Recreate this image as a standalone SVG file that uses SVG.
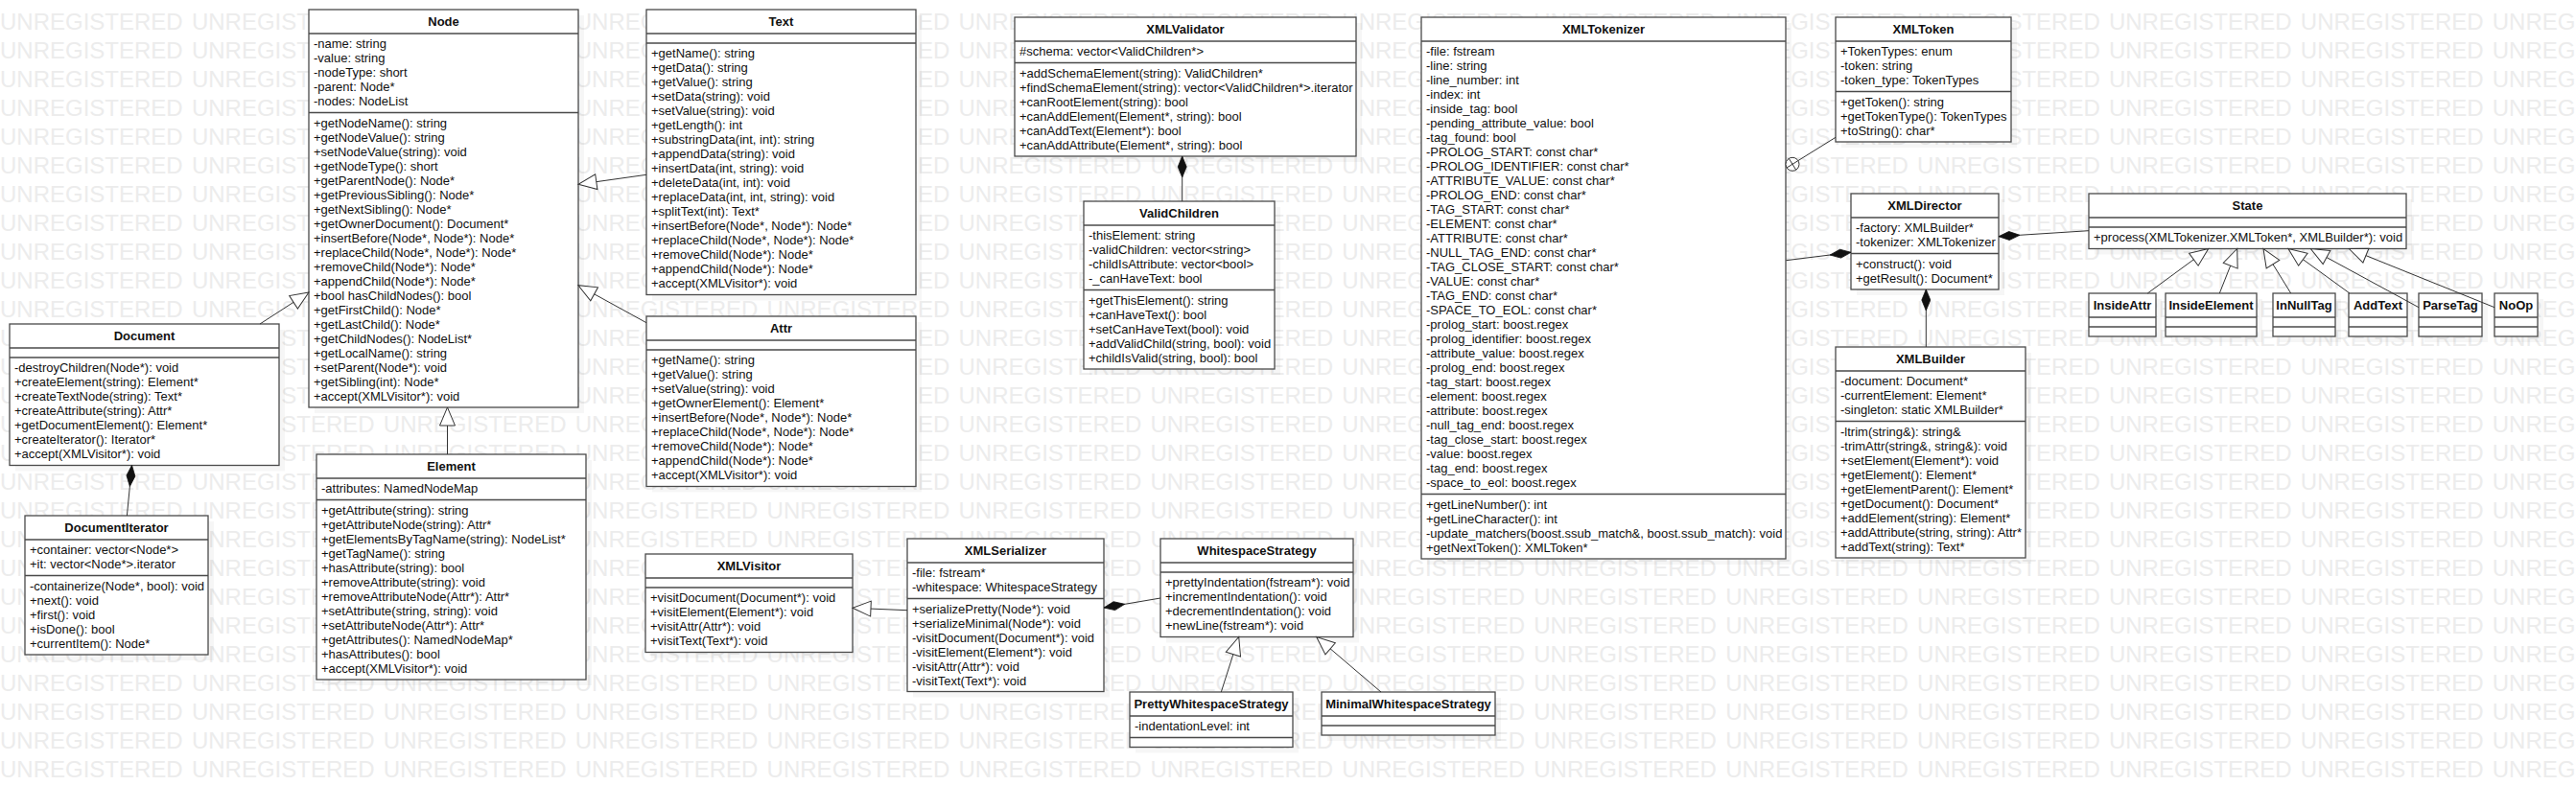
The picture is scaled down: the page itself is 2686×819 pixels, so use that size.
<svg xmlns="http://www.w3.org/2000/svg" width="2686" height="819" viewBox="0 0 2686 819">
<style>
.wm{font-family:"Liberation Sans",Arial,sans-serif;font-size:24px;fill:#ececec;word-spacing:2.55px}
.sh{fill:#000;fill-opacity:0.035}
.box{fill:#fff;stroke:#4a4a4a;stroke-width:1.3}
.sep{stroke:#4a4a4a;stroke-width:1.3}
.nm{font-family:"Liberation Sans",Arial,sans-serif;font-size:13px;font-weight:bold;fill:#111;text-anchor:middle}
.t{font-family:"Liberation Sans",Arial,sans-serif;font-size:13px;fill:#111}
.ln{fill:none;stroke:#333;stroke-width:1}
</style>
<defs>
<marker id="tri" markerUnits="userSpaceOnUse" markerWidth="24" markerHeight="20" viewBox="-21 -10 22 20" refX="0" refY="0" orient="auto" overflow="visible"><path d="M0,0 L-19,-8 L-19,8 Z" fill="#fff" stroke="#333" stroke-width="1"/></marker>
<marker id="dia" markerUnits="userSpaceOnUse" markerWidth="26" markerHeight="12" viewBox="-24 -6 25 12" refX="0" refY="0" orient="auto" overflow="visible"><path d="M0,0 L-11,-4.5 L-22,0 L-11,4.5 Z" fill="#111" stroke="#111" stroke-width="0.8"/></marker>
</defs>
<rect width="2686" height="819" fill="#fff"/>
<g id="watermark">
<text class="wm" x="0" y="30.5">UNREGISTERED UNREGISTERED UNREGISTERED UNREGISTERED UNREGISTERED UNREGISTERED UNREGISTERED UNREGISTERED UNREGISTERED UNREGISTERED UNREGISTERED UNREGISTERED UNREGISTERED UNREG</text>
<text class="wm" x="0" y="60.5">UNREGISTERED UNREGISTERED UNREGISTERED UNREGISTERED UNREGISTERED UNREGISTERED UNREGISTERED UNREGISTERED UNREGISTERED UNREGISTERED UNREGISTERED UNREGISTERED UNREGISTERED UNREG</text>
<text class="wm" x="0" y="90.5">UNREGISTERED UNREGISTERED UNREGISTERED UNREGISTERED UNREGISTERED UNREGISTERED UNREGISTERED UNREGISTERED UNREGISTERED UNREGISTERED UNREGISTERED UNREGISTERED UNREGISTERED UNREG</text>
<text class="wm" x="0" y="120.5">UNREGISTERED UNREGISTERED UNREGISTERED UNREGISTERED UNREGISTERED UNREGISTERED UNREGISTERED UNREGISTERED UNREGISTERED UNREGISTERED UNREGISTERED UNREGISTERED UNREGISTERED UNREG</text>
<text class="wm" x="0" y="150.5">UNREGISTERED UNREGISTERED UNREGISTERED UNREGISTERED UNREGISTERED UNREGISTERED UNREGISTERED UNREGISTERED UNREGISTERED UNREGISTERED UNREGISTERED UNREGISTERED UNREGISTERED UNREG</text>
<text class="wm" x="0" y="180.5">UNREGISTERED UNREGISTERED UNREGISTERED UNREGISTERED UNREGISTERED UNREGISTERED UNREGISTERED UNREGISTERED UNREGISTERED UNREGISTERED UNREGISTERED UNREGISTERED UNREGISTERED UNREG</text>
<text class="wm" x="0" y="210.5">UNREGISTERED UNREGISTERED UNREGISTERED UNREGISTERED UNREGISTERED UNREGISTERED UNREGISTERED UNREGISTERED UNREGISTERED UNREGISTERED UNREGISTERED UNREGISTERED UNREGISTERED UNREG</text>
<text class="wm" x="0" y="240.5">UNREGISTERED UNREGISTERED UNREGISTERED UNREGISTERED UNREGISTERED UNREGISTERED UNREGISTERED UNREGISTERED UNREGISTERED UNREGISTERED UNREGISTERED UNREGISTERED UNREGISTERED UNREG</text>
<text class="wm" x="0" y="270.5">UNREGISTERED UNREGISTERED UNREGISTERED UNREGISTERED UNREGISTERED UNREGISTERED UNREGISTERED UNREGISTERED UNREGISTERED UNREGISTERED UNREGISTERED UNREGISTERED UNREGISTERED UNREG</text>
<text class="wm" x="0" y="300.5">UNREGISTERED UNREGISTERED UNREGISTERED UNREGISTERED UNREGISTERED UNREGISTERED UNREGISTERED UNREGISTERED UNREGISTERED UNREGISTERED UNREGISTERED UNREGISTERED UNREGISTERED UNREG</text>
<text class="wm" x="0" y="330.5">UNREGISTERED UNREGISTERED UNREGISTERED UNREGISTERED UNREGISTERED UNREGISTERED UNREGISTERED UNREGISTERED UNREGISTERED UNREGISTERED UNREGISTERED UNREGISTERED UNREGISTERED UNREG</text>
<text class="wm" x="0" y="360.5">UNREGISTERED UNREGISTERED UNREGISTERED UNREGISTERED UNREGISTERED UNREGISTERED UNREGISTERED UNREGISTERED UNREGISTERED UNREGISTERED UNREGISTERED UNREGISTERED UNREGISTERED UNREG</text>
<text class="wm" x="0" y="390.5">UNREGISTERED UNREGISTERED UNREGISTERED UNREGISTERED UNREGISTERED UNREGISTERED UNREGISTERED UNREGISTERED UNREGISTERED UNREGISTERED UNREGISTERED UNREGISTERED UNREGISTERED UNREG</text>
<text class="wm" x="0" y="420.5">UNREGISTERED UNREGISTERED UNREGISTERED UNREGISTERED UNREGISTERED UNREGISTERED UNREGISTERED UNREGISTERED UNREGISTERED UNREGISTERED UNREGISTERED UNREGISTERED UNREGISTERED UNREG</text>
<text class="wm" x="0" y="450.5">UNREGISTERED UNREGISTERED UNREGISTERED UNREGISTERED UNREGISTERED UNREGISTERED UNREGISTERED UNREGISTERED UNREGISTERED UNREGISTERED UNREGISTERED UNREGISTERED UNREGISTERED UNREG</text>
<text class="wm" x="0" y="480.5">UNREGISTERED UNREGISTERED UNREGISTERED UNREGISTERED UNREGISTERED UNREGISTERED UNREGISTERED UNREGISTERED UNREGISTERED UNREGISTERED UNREGISTERED UNREGISTERED UNREGISTERED UNREG</text>
<text class="wm" x="0" y="510.5">UNREGISTERED UNREGISTERED UNREGISTERED UNREGISTERED UNREGISTERED UNREGISTERED UNREGISTERED UNREGISTERED UNREGISTERED UNREGISTERED UNREGISTERED UNREGISTERED UNREGISTERED UNREG</text>
<text class="wm" x="0" y="540.5">UNREGISTERED UNREGISTERED UNREGISTERED UNREGISTERED UNREGISTERED UNREGISTERED UNREGISTERED UNREGISTERED UNREGISTERED UNREGISTERED UNREGISTERED UNREGISTERED UNREGISTERED UNREG</text>
<text class="wm" x="0" y="570.5">UNREGISTERED UNREGISTERED UNREGISTERED UNREGISTERED UNREGISTERED UNREGISTERED UNREGISTERED UNREGISTERED UNREGISTERED UNREGISTERED UNREGISTERED UNREGISTERED UNREGISTERED UNREG</text>
<text class="wm" x="0" y="600.5">UNREGISTERED UNREGISTERED UNREGISTERED UNREGISTERED UNREGISTERED UNREGISTERED UNREGISTERED UNREGISTERED UNREGISTERED UNREGISTERED UNREGISTERED UNREGISTERED UNREGISTERED UNREG</text>
<text class="wm" x="0" y="630.5">UNREGISTERED UNREGISTERED UNREGISTERED UNREGISTERED UNREGISTERED UNREGISTERED UNREGISTERED UNREGISTERED UNREGISTERED UNREGISTERED UNREGISTERED UNREGISTERED UNREGISTERED UNREG</text>
<text class="wm" x="0" y="660.5">UNREGISTERED UNREGISTERED UNREGISTERED UNREGISTERED UNREGISTERED UNREGISTERED UNREGISTERED UNREGISTERED UNREGISTERED UNREGISTERED UNREGISTERED UNREGISTERED UNREGISTERED UNREG</text>
<text class="wm" x="0" y="690.5">UNREGISTERED UNREGISTERED UNREGISTERED UNREGISTERED UNREGISTERED UNREGISTERED UNREGISTERED UNREGISTERED UNREGISTERED UNREGISTERED UNREGISTERED UNREGISTERED UNREGISTERED UNREG</text>
<text class="wm" x="0" y="720.5">UNREGISTERED UNREGISTERED UNREGISTERED UNREGISTERED UNREGISTERED UNREGISTERED UNREGISTERED UNREGISTERED UNREGISTERED UNREGISTERED UNREGISTERED UNREGISTERED UNREGISTERED UNREG</text>
<text class="wm" x="0" y="750.5">UNREGISTERED UNREGISTERED UNREGISTERED UNREGISTERED UNREGISTERED UNREGISTERED UNREGISTERED UNREGISTERED UNREGISTERED UNREGISTERED UNREGISTERED UNREGISTERED UNREGISTERED UNREG</text>
<text class="wm" x="0" y="780.5">UNREGISTERED UNREGISTERED UNREGISTERED UNREGISTERED UNREGISTERED UNREGISTERED UNREGISTERED UNREGISTERED UNREGISTERED UNREGISTERED UNREGISTERED UNREGISTERED UNREGISTERED UNREG</text>
<text class="wm" x="0" y="810.5">UNREGISTERED UNREGISTERED UNREGISTERED UNREGISTERED UNREGISTERED UNREGISTERED UNREGISTERED UNREGISTERED UNREGISTERED UNREGISTERED UNREGISTERED UNREGISTERED UNREGISTERED UNREG</text>
</g>

<g id="node-Node">
<rect class="sh" x="328" y="16" width="281" height="415"/>
<rect class="box" x="322" y="10" width="281" height="415"/>
<line class="sep" x1="322" y1="35" x2="603" y2="35"/><line class="sep" x1="322" y1="117.5" x2="603" y2="117.5"/>
<text class="nm" x="462.5" y="27.3">Node</text>
<text class="t" y="50.3"><tspan x="327">-name: string</tspan><tspan x="327" dy="15">-value: string</tspan><tspan x="327" dy="15">-nodeType: short</tspan><tspan x="327" dy="15">-parent: Node*</tspan><tspan x="327" dy="15">-nodes: NodeList</tspan></text>
<text class="t" y="132.8"><tspan x="327">+getNodeName(): string</tspan><tspan x="327" dy="15">+getNodeValue(): string</tspan><tspan x="327" dy="15">+setNodeValue(string): void</tspan><tspan x="327" dy="15">+getNodeType(): short</tspan><tspan x="327" dy="15">+getParentNode(): Node*</tspan><tspan x="327" dy="15">+getPreviousSibling(): Node*</tspan><tspan x="327" dy="15">+getNextSibling(): Node*</tspan><tspan x="327" dy="15">+getOwnerDocument(): Document*</tspan><tspan x="327" dy="15">+insertBefore(Node*, Node*): Node*</tspan><tspan x="327" dy="15">+replaceChild(Node*, Node*): Node*</tspan><tspan x="327" dy="15">+removeChild(Node*): Node*</tspan><tspan x="327" dy="15">+appendChild(Node*): Node*</tspan><tspan x="327" dy="15">+bool hasChildNodes(): bool</tspan><tspan x="327" dy="15">+getFirstChild(): Node*</tspan><tspan x="327" dy="15">+getLastChild(): Node*</tspan><tspan x="327" dy="15">+getChildNodes(): NodeList*</tspan><tspan x="327" dy="15">+getLocalName(): string</tspan><tspan x="327" dy="15">+setParent(Node*): void</tspan><tspan x="327" dy="15">+getSibling(int): Node*</tspan><tspan x="327" dy="15">+accept(XMLVisitor*): void</tspan></text>
</g>

<g id="node-Text">
<rect class="sh" x="680" y="16" width="281" height="297.5"/>
<rect class="box" x="674" y="10" width="281" height="297.5"/>
<line class="sep" x1="674" y1="35" x2="955" y2="35"/><line class="sep" x1="674" y1="45" x2="955" y2="45"/>
<text class="nm" x="814.5" y="27.3">Text</text>
<text class="t" y="60.3"><tspan x="679">+getName(): string</tspan><tspan x="679" dy="15">+getData(): string</tspan><tspan x="679" dy="15">+getValue(): string</tspan><tspan x="679" dy="15">+setData(string): void</tspan><tspan x="679" dy="15">+setValue(string): void</tspan><tspan x="679" dy="15">+getLength(): int</tspan><tspan x="679" dy="15">+substringData(int, int): string</tspan><tspan x="679" dy="15">+appendData(string): void</tspan><tspan x="679" dy="15">+insertData(int, string): void</tspan><tspan x="679" dy="15">+deleteData(int, int): void</tspan><tspan x="679" dy="15">+replaceData(int, int, string): void</tspan><tspan x="679" dy="15">+splitText(int): Text*</tspan><tspan x="679" dy="15">+insertBefore(Node*, Node*): Node*</tspan><tspan x="679" dy="15">+replaceChild(Node*, Node*): Node*</tspan><tspan x="679" dy="15">+removeChild(Node*): Node*</tspan><tspan x="679" dy="15">+appendChild(Node*): Node*</tspan><tspan x="679" dy="15">+accept(XMLVisitor*): void</tspan></text>
</g>

<g id="node-Attr">
<rect class="sh" x="680" y="336" width="281" height="177.5"/>
<rect class="box" x="674" y="330" width="281" height="177.5"/>
<line class="sep" x1="674" y1="355" x2="955" y2="355"/><line class="sep" x1="674" y1="365" x2="955" y2="365"/>
<text class="nm" x="814.5" y="347.3">Attr</text>
<text class="t" y="380.3"><tspan x="679">+getName(): string</tspan><tspan x="679" dy="15">+getValue(): string</tspan><tspan x="679" dy="15">+setValue(string): void</tspan><tspan x="679" dy="15">+getOwnerElement(): Element*</tspan><tspan x="679" dy="15">+insertBefore(Node*, Node*): Node*</tspan><tspan x="679" dy="15">+replaceChild(Node*, Node*): Node*</tspan><tspan x="679" dy="15">+removeChild(Node*): Node*</tspan><tspan x="679" dy="15">+appendChild(Node*): Node*</tspan><tspan x="679" dy="15">+accept(XMLVisitor*): void</tspan></text>
</g>

<g id="node-Document">
<rect class="sh" x="16" y="344" width="281" height="147.5"/>
<rect class="box" x="10" y="338" width="281" height="147.5"/>
<line class="sep" x1="10" y1="363" x2="291" y2="363"/><line class="sep" x1="10" y1="373" x2="291" y2="373"/>
<text class="nm" x="150.5" y="355.3">Document</text>
<text class="t" y="388.3"><tspan x="15">-destroyChildren(Node*): void</tspan><tspan x="15" dy="15">+createElement(string): Element*</tspan><tspan x="15" dy="15">+createTextNode(string): Text*</tspan><tspan x="15" dy="15">+createAttribute(string): Attr*</tspan><tspan x="15" dy="15">+getDocumentElement(): Element*</tspan><tspan x="15" dy="15">+createIterator(): Iterator*</tspan><tspan x="15" dy="15">+accept(XMLVisitor*): void</tspan></text>
</g>

<g id="node-Element">
<rect class="sh" x="336" y="480" width="281" height="235"/>
<rect class="box" x="330" y="474" width="281" height="235"/>
<line class="sep" x1="330" y1="499" x2="611" y2="499"/><line class="sep" x1="330" y1="521.5" x2="611" y2="521.5"/>
<text class="nm" x="470.5" y="491.3">Element</text>
<text class="t" x="335" y="514.3">-attributes: NamedNodeMap</text>
<text class="t" y="536.8"><tspan x="335">+getAttribute(string): string</tspan><tspan x="335" dy="15">+getAttributeNode(string): Attr*</tspan><tspan x="335" dy="15">+getElementsByTagName(string): NodeList*</tspan><tspan x="335" dy="15">+getTagName(): string</tspan><tspan x="335" dy="15">+hasAttribute(string): bool</tspan><tspan x="335" dy="15">+removeAttribute(string): void</tspan><tspan x="335" dy="15">+removeAttributeNode(Attr*): Attr*</tspan><tspan x="335" dy="15">+setAttribute(string, string): void</tspan><tspan x="335" dy="15">+setAttributeNode(Attr*): Attr*</tspan><tspan x="335" dy="15">+getAttributes(): NamedNodeMap*</tspan><tspan x="335" dy="15">+hasAttributes(): bool</tspan><tspan x="335" dy="15">+accept(XMLVisitor*): void</tspan></text>
</g>

<g id="node-DocumentIterator">
<rect class="sh" x="32" y="544" width="191" height="145"/>
<rect class="box" x="26" y="538" width="191" height="145"/>
<line class="sep" x1="26" y1="563" x2="217" y2="563"/><line class="sep" x1="26" y1="600.5" x2="217" y2="600.5"/>
<text class="nm" x="121.5" y="555.3">DocumentIterator</text>
<text class="t" y="578.3"><tspan x="31">+container: vector&lt;Node*&gt;</tspan><tspan x="31" dy="15">+it: vector&lt;Node*&gt;.iterator</tspan></text>
<text class="t" y="615.8"><tspan x="31">-containerize(Node*, bool): void</tspan><tspan x="31" dy="15">+next(): void</tspan><tspan x="31" dy="15">+first(): void</tspan><tspan x="31" dy="15">+isDone(): bool</tspan><tspan x="31" dy="15">+currentItem(): Node*</tspan></text>
</g>

<g id="node-XMLValidator">
<rect class="sh" x="1064" y="24" width="356" height="145"/>
<rect class="box" x="1058" y="18" width="356" height="145"/>
<line class="sep" x1="1058" y1="43" x2="1414" y2="43"/><line class="sep" x1="1058" y1="65.5" x2="1414" y2="65.5"/>
<text class="nm" x="1236" y="35.3">XMLValidator</text>
<text class="t" x="1063" y="58.3">#schema: vector&lt;ValidChildren*&gt;</text>
<text class="t" y="80.8"><tspan x="1063">+addSchemaElement(string): ValidChildren*</tspan><tspan x="1063" dy="15">+findSchemaElement(string): vector&lt;ValidChildren*&gt;.iterator</tspan><tspan x="1063" dy="15">+canRootElement(string): bool</tspan><tspan x="1063" dy="15">+canAddElement(Element*, string): bool</tspan><tspan x="1063" dy="15">+canAddText(Element*): bool</tspan><tspan x="1063" dy="15">+canAddAttribute(Element*, string): bool</tspan></text>
</g>

<g id="node-ValidChildren">
<rect class="sh" x="1136" y="216" width="199" height="175"/>
<rect class="box" x="1130" y="210" width="199" height="175"/>
<line class="sep" x1="1130" y1="235" x2="1329" y2="235"/><line class="sep" x1="1130" y1="302.5" x2="1329" y2="302.5"/>
<text class="nm" x="1229.5" y="227.3">ValidChildren</text>
<text class="t" y="250.3"><tspan x="1135">-thisElement: string</tspan><tspan x="1135" dy="15">-validChildren: vector&lt;string&gt;</tspan><tspan x="1135" dy="15">-childIsAttribute: vector&lt;bool&gt;</tspan><tspan x="1135" dy="15">-_canHaveText: bool</tspan></text>
<text class="t" y="317.8"><tspan x="1135">+getThisElement(): string</tspan><tspan x="1135" dy="15">+canHaveText(): bool</tspan><tspan x="1135" dy="15">+setCanHaveText(bool): void</tspan><tspan x="1135" dy="15">+addValidChild(string, bool): void</tspan><tspan x="1135" dy="15">+childIsValid(string, bool): bool</tspan></text>
</g>

<g id="node-XMLTokenizer">
<rect class="sh" x="1488" y="24" width="380" height="565"/>
<rect class="box" x="1482" y="18" width="380" height="565"/>
<line class="sep" x1="1482" y1="43" x2="1862" y2="43"/><line class="sep" x1="1482" y1="515.5" x2="1862" y2="515.5"/>
<text class="nm" x="1672" y="35.3">XMLTokenizer</text>
<text class="t" y="58.3"><tspan x="1487">-file: fstream</tspan><tspan x="1487" dy="15">-line: string</tspan><tspan x="1487" dy="15">-line_number: int</tspan><tspan x="1487" dy="15">-index: int</tspan><tspan x="1487" dy="15">-inside_tag: bool</tspan><tspan x="1487" dy="15">-pending_attribute_value: bool</tspan><tspan x="1487" dy="15">-tag_found: bool</tspan><tspan x="1487" dy="15">-PROLOG_START: const char*</tspan><tspan x="1487" dy="15">-PROLOG_IDENTIFIER: const char*</tspan><tspan x="1487" dy="15">-ATTRIBUTE_VALUE: const char*</tspan><tspan x="1487" dy="15">-PROLOG_END: const char*</tspan><tspan x="1487" dy="15">-TAG_START: const char*</tspan><tspan x="1487" dy="15">-ELEMENT: const char*</tspan><tspan x="1487" dy="15">-ATTRIBUTE: const char*</tspan><tspan x="1487" dy="15">-NULL_TAG_END: const char*</tspan><tspan x="1487" dy="15">-TAG_CLOSE_START: const char*</tspan><tspan x="1487" dy="15">-VALUE: const char*</tspan><tspan x="1487" dy="15">-TAG_END: const char*</tspan><tspan x="1487" dy="15">-SPACE_TO_EOL: const char*</tspan><tspan x="1487" dy="15">-prolog_start: boost.regex</tspan><tspan x="1487" dy="15">-prolog_identifier: boost.regex</tspan><tspan x="1487" dy="15">-attribute_value: boost.regex</tspan><tspan x="1487" dy="15">-prolog_end: boost.regex</tspan><tspan x="1487" dy="15">-tag_start: boost.regex</tspan><tspan x="1487" dy="15">-element: boost.regex</tspan><tspan x="1487" dy="15">-attribute: boost.regex</tspan><tspan x="1487" dy="15">-null_tag_end: boost.regex</tspan><tspan x="1487" dy="15">-tag_close_start: boost.regex</tspan><tspan x="1487" dy="15">-value: boost.regex</tspan><tspan x="1487" dy="15">-tag_end: boost.regex</tspan><tspan x="1487" dy="15">-space_to_eol: boost.regex</tspan></text>
<text class="t" y="530.8"><tspan x="1487">+getLineNumber(): int</tspan><tspan x="1487" dy="15">+getLineCharacter(): int</tspan><tspan x="1487" dy="15">-update_matchers(boost.ssub_match&amp;, boost.ssub_match): void</tspan><tspan x="1487" dy="15">+getNextToken(): XMLToken*</tspan></text>
</g>

<g id="node-XMLToken">
<rect class="sh" x="1920" y="24" width="183" height="130"/>
<rect class="box" x="1914" y="18" width="183" height="130"/>
<line class="sep" x1="1914" y1="43" x2="2097" y2="43"/><line class="sep" x1="1914" y1="95.5" x2="2097" y2="95.5"/>
<text class="nm" x="2005.5" y="35.3">XMLToken</text>
<text class="t" y="58.3"><tspan x="1919">+TokenTypes: enum</tspan><tspan x="1919" dy="15">-token: string</tspan><tspan x="1919" dy="15">-token_type: TokenTypes</tspan></text>
<text class="t" y="110.8"><tspan x="1919">+getToken(): string</tspan><tspan x="1919" dy="15">+getTokenType(): TokenTypes</tspan><tspan x="1919" dy="15">+toString(): char*</tspan></text>
</g>

<g id="node-XMLDirector">
<rect class="sh" x="1936" y="208" width="154" height="100"/>
<rect class="box" x="1930" y="202" width="154" height="100"/>
<line class="sep" x1="1930" y1="227" x2="2084" y2="227"/><line class="sep" x1="1930" y1="264.5" x2="2084" y2="264.5"/>
<text class="nm" x="2007" y="219.3">XMLDirector</text>
<text class="t" y="242.3"><tspan x="1935">-factory: XMLBuilder*</tspan><tspan x="1935" dy="15">-tokenizer: XMLTokenizer</tspan></text>
<text class="t" y="279.8"><tspan x="1935">+construct(): void</tspan><tspan x="1935" dy="15">+getResult(): Document*</tspan></text>
</g>

<g id="node-XMLBuilder">
<rect class="sh" x="1920" y="368" width="198" height="220"/>
<rect class="box" x="1914" y="362" width="198" height="220"/>
<line class="sep" x1="1914" y1="387" x2="2112" y2="387"/><line class="sep" x1="1914" y1="439.5" x2="2112" y2="439.5"/>
<text class="nm" x="2013" y="379.3">XMLBuilder</text>
<text class="t" y="402.3"><tspan x="1919">-document: Document*</tspan><tspan x="1919" dy="15">-currentElement: Element*</tspan><tspan x="1919" dy="15">-singleton: static XMLBuilder*</tspan></text>
<text class="t" y="454.8"><tspan x="1919">-ltrim(string&amp;): string&amp;</tspan><tspan x="1919" dy="15">-trimAttr(string&amp;, string&amp;): void</tspan><tspan x="1919" dy="15">+setElement(Element*): void</tspan><tspan x="1919" dy="15">+getElement(): Element*</tspan><tspan x="1919" dy="15">+getElementParent(): Element*</tspan><tspan x="1919" dy="15">+getDocument(): Document*</tspan><tspan x="1919" dy="15">+addElement(string): Element*</tspan><tspan x="1919" dy="15">+addAttribute(string, string): Attr*</tspan><tspan x="1919" dy="15">+addText(string): Text*</tspan></text>
</g>

<g id="node-State">
<rect class="sh" x="2184" y="208" width="331" height="57.5"/>
<rect class="box" x="2178" y="202" width="331" height="57.5"/>
<line class="sep" x1="2178" y1="227" x2="2509" y2="227"/><line class="sep" x1="2178" y1="237" x2="2509" y2="237"/>
<text class="nm" x="2343.5" y="219.3">State</text>
<text class="t" x="2183" y="252.3">+process(XMLTokenizer.XMLToken*, XMLBuilder*): void</text>
</g>

<g id="node-InsideAttr">
<rect class="sh" x="2184" y="312" width="70" height="45"/>
<rect class="box" x="2178" y="306" width="70" height="45"/>
<line class="sep" x1="2178" y1="331" x2="2248" y2="331"/><line class="sep" x1="2178" y1="341" x2="2248" y2="341"/>
<text class="nm" x="2213" y="323.3">InsideAttr</text>
</g>
<g id="node-InsideElement">
<rect class="sh" x="2264" y="312" width="95" height="45"/>
<rect class="box" x="2258" y="306" width="95" height="45"/>
<line class="sep" x1="2258" y1="331" x2="2353" y2="331"/><line class="sep" x1="2258" y1="341" x2="2353" y2="341"/>
<text class="nm" x="2305.5" y="323.3">InsideElement</text>
</g>
<g id="node-InNullTag">
<rect class="sh" x="2376" y="312" width="65" height="45"/>
<rect class="box" x="2370" y="306" width="65" height="45"/>
<line class="sep" x1="2370" y1="331" x2="2435" y2="331"/><line class="sep" x1="2370" y1="341" x2="2435" y2="341"/>
<text class="nm" x="2402.5" y="323.3">InNullTag</text>
</g>
<g id="node-AddText">
<rect class="sh" x="2455" y="312" width="61" height="45"/>
<rect class="box" x="2449" y="306" width="61" height="45"/>
<line class="sep" x1="2449" y1="331" x2="2510" y2="331"/><line class="sep" x1="2449" y1="341" x2="2510" y2="341"/>
<text class="nm" x="2479.5" y="323.3">AddText</text>
</g>
<g id="node-ParseTag">
<rect class="sh" x="2528" y="312" width="66" height="45"/>
<rect class="box" x="2522" y="306" width="66" height="45"/>
<line class="sep" x1="2522" y1="331" x2="2588" y2="331"/><line class="sep" x1="2522" y1="341" x2="2588" y2="341"/>
<text class="nm" x="2555" y="323.3">ParseTag</text>
</g>
<g id="node-NoOp">
<rect class="sh" x="2607" y="312" width="45" height="45"/>
<rect class="box" x="2601" y="306" width="45" height="45"/>
<line class="sep" x1="2601" y1="331" x2="2646" y2="331"/><line class="sep" x1="2601" y1="341" x2="2646" y2="341"/>
<text class="nm" x="2623.5" y="323.3">NoOp</text>
</g>

<g id="node-XMLVisitor">
<rect class="sh" x="679" y="584" width="216" height="102.5"/>
<rect class="box" x="673" y="578" width="216" height="102.5"/>
<line class="sep" x1="673" y1="603" x2="889" y2="603"/><line class="sep" x1="673" y1="613" x2="889" y2="613"/>
<text class="nm" x="781" y="595.3">XMLVisitor</text>
<text class="t" y="628.3"><tspan x="678">+visitDocument(Document*): void</tspan><tspan x="678" dy="15">+visitElement(Element*): void</tspan><tspan x="678" dy="15">+visitAttr(Attr*): void</tspan><tspan x="678" dy="15">+visitText(Text*): void</tspan></text>
</g>

<g id="node-XMLSerializer">
<rect class="sh" x="952" y="568" width="205" height="159.5"/>
<rect class="box" x="946" y="562" width="205" height="159.5"/>
<line class="sep" x1="946" y1="587" x2="1151" y2="587"/><line class="sep" x1="946" y1="624.5" x2="1151" y2="624.5"/>
<text class="nm" x="1048.5" y="579.3">XMLSerializer</text>
<text class="t" y="602.3"><tspan x="951">-file: fstream*</tspan><tspan x="951" dy="15">-whitespace: WhitespaceStrategy</tspan></text>
<text class="t" y="639.8"><tspan x="951">+serializePretty(Node*): void</tspan><tspan x="951" dy="15">+serializeMinimal(Node*): void</tspan><tspan x="951" dy="15">-visitDocument(Document*): void</tspan><tspan x="951" dy="15">-visitElement(Element*): void</tspan><tspan x="951" dy="15">-visitAttr(Attr*): void</tspan><tspan x="951" dy="15">-visitText(Text*): void</tspan></text>
</g>

<g id="node-WhitespaceStrategy">
<rect class="sh" x="1216" y="568" width="201" height="102.5"/>
<rect class="box" x="1210" y="562" width="201" height="102.5"/>
<line class="sep" x1="1210" y1="587" x2="1411" y2="587"/><line class="sep" x1="1210" y1="597" x2="1411" y2="597"/>
<text class="nm" x="1310.5" y="579.3">WhitespaceStrategy</text>
<text class="t" y="612.3"><tspan x="1215">+prettyIndentation(fstream*): void</tspan><tspan x="1215" dy="15">+incrementIndentation(): void</tspan><tspan x="1215" dy="15">+decrementIndentation(): void</tspan><tspan x="1215" dy="15">+newLine(fstream*): void</tspan></text>
</g>

<g id="node-PrettyWhitespaceStrategy">
<rect class="sh" x="1184" y="728" width="170" height="57.5"/>
<rect class="box" x="1178" y="722" width="170" height="57.5"/>
<line class="sep" x1="1178" y1="747" x2="1348" y2="747"/><line class="sep" x1="1178" y1="769.5" x2="1348" y2="769.5"/>
<text class="nm" x="1263" y="739.3">PrettyWhitespaceStrategy</text>
<text class="t" x="1183" y="762.3">-indentationLevel: int</text>
</g>

<g id="node-MinimalWhitespaceStrategy">
<rect class="sh" x="1384" y="728" width="181" height="45"/>
<rect class="box" x="1378" y="722" width="181" height="45"/>
<line class="sep" x1="1378" y1="747" x2="1559" y2="747"/><line class="sep" x1="1378" y1="757" x2="1559" y2="757"/>
<text class="nm" x="1468.5" y="739.3">MinimalWhitespaceStrategy</text>
</g>

<g id="connectors">
<path class="ln" d="M271,338 L322,305" marker-end="url(#tri)"/>
<path class="ln" d="M466.5,474 L466.5,425" marker-end="url(#tri)"/>
<path class="ln" d="M674,182.3 L603,192.3" marker-end="url(#tri)"/>
<path class="ln" d="M674,336.7 L603,297.7" marker-end="url(#tri)"/>
<path class="ln" d="M132.4,538 L137.5,485.5" marker-end="url(#dia)"/>
<path class="ln" d="M1232.7,210 L1232.7,163" marker-end="url(#dia)"/>
<path class="ln" d="M946,636.7 L889,634.3" marker-end="url(#tri)"/>
<path class="ln" d="M1210,624 L1151,634" marker-end="url(#dia)"/>
<path class="ln" d="M1273.3,722 L1291.7,664.5" marker-end="url(#tri)"/>
<path class="ln" d="M1440,722 L1372.7,664.5" marker-end="url(#tri)"/>
<path class="ln" d="M1874.9,167.6 L1914,143.3"/>
<circle cx="1869" cy="171.3" r="7" fill="#fff" stroke="#333" stroke-width="1"/>
<path class="ln" d="M1863.06,175 L1874.94,167.6 M1865.3,165.36 L1872.7,177.24"/>
<path class="ln" d="M1862.3,271.7 L1930,263.3" marker-end="url(#dia)"/>
<path class="ln" d="M2178,240.7 L2084,246.7" marker-end="url(#dia)"/>
<path class="ln" d="M2008.3,362 L2008.3,302" marker-end="url(#dia)"/>
<path class="ln" d="M2239.3,306 L2302.7,259.5" marker-end="url(#tri)"/>
<path class="ln" d="M2314.3,306 L2332.7,259.5" marker-end="url(#tri)"/>
<path class="ln" d="M2388.7,306 L2360,259.5" marker-end="url(#tri)"/>
<path class="ln" d="M2450,306 L2386,259.5" marker-end="url(#tri)"/>
<path class="ln" d="M2522,320.7 L2409.3,259.5" marker-end="url(#tri)"/>
<path class="ln" d="M2601,320.7 L2449.3,259.5" marker-end="url(#tri)"/>
</g>
</svg>
